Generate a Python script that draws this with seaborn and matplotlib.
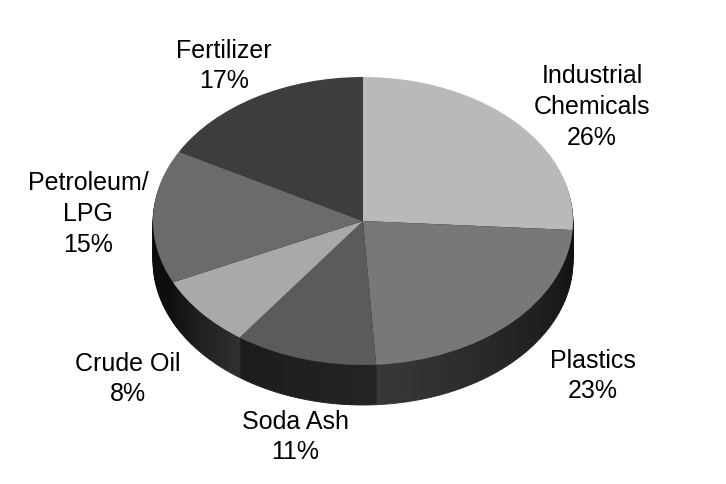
"""3D-look pie of end uses, grey tones. Side wall is a stack of offset pies."""
import numpy as np
import matplotlib; matplotlib.use("Agg"); import matplotlib.pyplot as plt
import seaborn as sns

sns.set_theme(style="white")
plt.rcParams["font.family"] = ["Liberation Sans", "DejaVu Sans"]

labels = ["Industrial\nChemicals\n26%", "Plastics\n23%", "Soda Ash\n11%",
          "Crude Oil\n8%", "Petroleum/\nLPG\n15%", "Fertilizer\n17%"]
shares = [26, 23, 11, 8, 15, 17]
top_greys = ["#b9b9b9", "#787878", "#5b5b5b", "#a9a9a9", "#6b6b6b", "#3d3d3d"]
side_from = [0.05, 0.07, 0.14, 0.19, 0.06, 0.05]   # wall brightness, slice start
side_to = [0.05, 0.22, 0.11, 0.07, 0.03, 0.05]     # wall brightness, slice end
label_px = [(592, 107), (593, 376), (295, 437), (128, 379), (88, 214), (224, 66)]

W, H = 726, 484
CX, CY, RX, RY, DEPTH = 363, 221, 210, 144, 40

fig = plt.figure(figsize=(W/100, H/100), dpi=100)
ax = fig.add_axes([0, 0, 1, 1])
top_pal = sns.color_palette(top_greys)

# side wall: sub-wedges with shade running across each slice
n_sub = 48
sub_vals, sub_cols = [], []
for s, a, b in zip(shares, side_from, side_to):
    for g in np.linspace(a, b, n_sub):
        sub_vals.append(s/n_sub); sub_cols.append((g, g, g))
for d in range(DEPTH, 0, -2):
    wedges, _ = ax.pie(sub_vals, colors=sub_cols, startangle=90, counterclock=False,
                       center=(0, -d/RY), radius=1)
    for w in wedges:
        w.set_edgecolor(w.get_facecolor()); w.set_linewidth(0.6)

# top face
ax.pie(shares, colors=top_pal, startangle=90, counterclock=False,
       center=(0, 0), radius=1, wedgeprops=dict(linewidth=0))

# squash circle to ellipse: axes in pixel-scaled units
ax.set_aspect("auto")
ax.set_xlim(-CX/RX, (W-CX)/RX)
ax.set_ylim((CY-H)/RY, CY/RY)
ax.axis("off")

for t, (px, py) in zip(labels, label_px):
    ax.text((px-CX)/RX, (CY-py)/RY, t, ha="center", va="center", fontsize=18,
            color="black", linespacing=1.36)

fig.savefig("out.png", dpi=100, facecolor="white")
